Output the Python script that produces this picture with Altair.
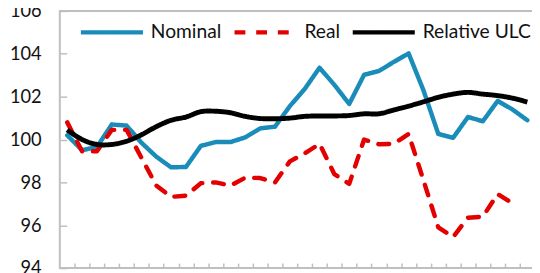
import altair as alt
import pandas as pd

# ---- data (quarterly index, 32 periods) ----
periods = list(range(32))
series_names = ["Nominal", "Real", "Relative ULC"]
nominal = [100.2, 99.5, 99.65, 100.7, 100.65, 99.85, 99.2, 98.7, 98.72, 99.7,
           99.88, 99.88, 100.1, 100.52, 100.6, 101.56, 102.36, 103.35, 102.55, 101.66,
           103.02, 103.2, 103.62, 104.02, 102.3, 100.26, 100.08, 101.05, 100.85, 101.8,
           101.4, 100.9]
real = [100.8, 99.45, 99.45, 100.45, 100.45, 99.15, 97.85, 97.32, 97.38, 97.96,
        98.0, 97.85, 98.22, 98.2, 98.0, 98.98, 99.35, 99.8, 98.38, 97.93,
        100.0, 99.78, 99.8, 100.26, 98.1, 95.9, 95.45, 96.35, 96.4, 97.45,
        97.02, None]
relative_ulc = [100.45, 100.0, 99.77, 99.77, 99.92, 100.22, 100.6, 100.9, 101.05, 101.3,
                101.32, 101.25, 101.08, 100.98, 100.97, 101.0, 101.08, 101.1, 101.1, 101.12,
                101.2, 101.2, 101.38, 101.56, 101.76, 101.97, 102.12, 102.2, 102.12, 102.05,
                101.93, 101.75]
y_tick_values = [94, 96, 98, 100, 102, 104, 106]
x_tick_values = [p + 0.5 for p in periods[:-1]]

rows = []
for name, vals in zip(series_names, [nominal, real, relative_ulc]):
    for p, v in zip(periods, vals):
        if v is not None:
            rows.append({"period": p, "value": v, "series": name})
df = pd.DataFrame(rows)

PLOT_W = 482.2
PLOT_H = 261
GRAY = "#BFBFBF"
FONT = "Lato"

x_scale = alt.Scale(domain=[-0.5, 31.5], nice=False, zero=False)
y_scale = alt.Scale(domain=[94, 106], nice=False, zero=False)
color_scale = alt.Scale(domain=series_names, range=["#1A8CBA", "#E40000", "#000000"])
dash_scale = alt.Scale(domain=series_names, range=[[1, 0], [11, 11], [1, 0]])

legend = alt.Legend(
    orient="none", legendX=18.9, legendY=-12.5, direction="horizontal",
    title=None, symbolType="stroke", symbolSize=3969, symbolStrokeWidth=4.5,
    labelFont=FONT, labelFontSize=19.5, labelColor="#111111", labelOffset=5.5,
    columnPadding=3, padding=0, labelLimit=0,
)

color_enc = alt.Color("series:N", scale=color_scale, legend=legend)
dash_enc = alt.StrokeDash("series:N", scale=dash_scale, legend=legend)

# invisible layer that only carries the inward-pointing tick marks
ticks_layer = alt.Chart(df).mark_point(opacity=0, size=0).encode(
    x=alt.X("period:Q", scale=x_scale,
            axis=alt.Axis(orient="top", offset=-PLOT_H, values=x_tick_values,
                          labels=False, domain=False, grid=False, ticks=True,
                          tickSize=5, tickColor=GRAY, tickWidth=1.5, title=None)),
    y=alt.Y("value:Q", scale=y_scale,
            axis=alt.Axis(orient="right", offset=-PLOT_W, values=y_tick_values,
                          labels=False, domain=False, grid=False, ticks=True,
                          tickSize=7, tickColor=GRAY, tickWidth=1.5, title=None)),
)

straight = alt.Chart(df[df["series"] != "Relative ULC"]).mark_line(
    strokeWidth=4.5, strokeCap="round", strokeJoin="round"
).encode(
    x=alt.X("period:Q", scale=x_scale,
            axis=alt.Axis(orient="bottom", labels=False, ticks=False, domain=False,
                          grid=False, title=None)),
    y=alt.Y("value:Q", scale=y_scale,
            axis=alt.Axis(orient="left", values=y_tick_values, ticks=False, tickSize=0,
                          domain=False, grid=False, title=None, labelFont=FONT,
                          labelFontSize=18.5, labelColor="#111111", labelPadding=19,
                          labelAlign="right")),
    color=color_enc,
    strokeDash=dash_enc,
    order=alt.Order("period:Q"),
)

smooth = alt.Chart(df[df["series"] == "Relative ULC"]).mark_line(
    strokeWidth=5, interpolate="catmull-rom"
).encode(
    x=alt.X("period:Q", scale=x_scale, axis=None),
    y=alt.Y("value:Q", scale=y_scale, axis=None),
    color=color_enc,
    strokeDash=dash_enc,
    order=alt.Order("period:Q"),
)

chart = alt.layer(ticks_layer, straight, smooth).resolve_axis(
    x="independent", y="independent"
).properties(
    width=PLOT_W, height=PLOT_H,
    autosize=alt.AutoSizeParams(type="none"),
    padding={"left": 52.6, "top": 1, "right": -2.8, "bottom": 3},
    background="white",
).configure_view(stroke=GRAY, strokeWidth=2)

chart.save("out.html", embed_options={"renderer": "svg", "actions": False})
